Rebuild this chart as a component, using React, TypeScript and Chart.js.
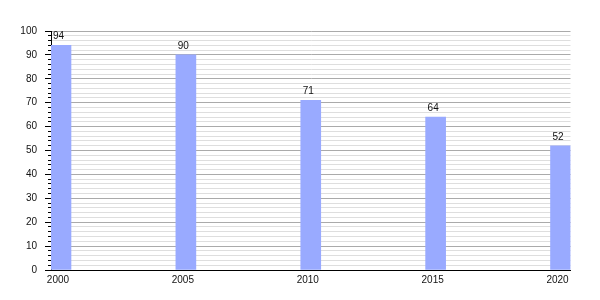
import React, { useEffect, useRef } from "react";
import { Chart, registerables } from "chart.js";

Chart.register(...registerables);

const years = [2000, 2005, 2010, 2015, 2020];
const values = [94, 90, 71, 64, 52];
const yMin = 0;
const yMax = 100;
const majorStep = 10;
const minorStep = 2;

const FONT = "'Liberation Sans', Arial, sans-serif";

const valueLabels = {
  id: "valueLabels",
  afterDatasetsDraw(chart: any) {
    const ctx = chart.ctx;
    const meta = chart.getDatasetMeta(0);
    ctx.save();
    ctx.font = `10px ${FONT}`;
    ctx.fillStyle = "#111";
    ctx.textAlign = "center";
    ctx.textBaseline = "alphabetic";
    meta.data.forEach((el: any, i: number) => {
      ctx.fillText(String(values[i]), el.x - 2.5, el.y - 6);
    });
    ctx.restore();
  },
};

export default function App() {
  const ref = useRef<HTMLCanvasElement>(null);
  useEffect(() => {
    if (!ref.current) return;
    const chart = new Chart(ref.current, {
      type: "bar",
      data: {
        datasets: [
          {
            data: years.map((y, i) => ({ x: y, y: values[i] })),
            backgroundColor: "rgb(153,170,255)",
            borderWidth: 0,
            barThickness: 20,
          },
        ],
      },
      options: {
        responsive: false,
        animation: false,
        layout: { padding: { top: 31, right: 29.5, left: 0, bottom: 0 } },
        plugins: {
          legend: { display: false },
          tooltip: { enabled: false },
        },
        scales: {
          x: {
            type: "linear",
            offset: false,
            min: years[0] - 0.4,
            max: years[years.length - 1] + 0.4,
            afterBuildTicks: (scale: any) => {
              scale.ticks = years.map((v) => ({ value: v }));
            },
            afterFit: (scale: any) => {
              scale.height = 30;
            },
            grid: { display: false, drawTicks: false, offset: false },
            border: { display: true, color: "#000", width: 1 },
            ticks: {
              font: { family: FONT, size: 10 },
              color: "#111",
              padding: 4,
              labelOffset: -3,
              maxRotation: 0,
              autoSkip: false,
              callback: (v: any) => String(v),
            },
          },
          y: {
            weight: 1,
            min: yMin,
            max: yMax,
            afterFit: (scale: any) => {
              scale.width = 51;
            },
            grid: {
              color: (c: any) =>
                c.tick && c.tick.value % majorStep === 0 ? "rgb(170,170,170)" : "rgb(222,222,222)",
              tickColor: (c: any) =>
                c.tick && c.tick.value % majorStep === 0 ? "#000" : "rgba(0,0,0,0)",
              tickLength: 6,
              lineWidth: 1,
            },
            border: { display: true, color: "#000", width: 1 },
            ticks: {
              stepSize: minorStep,
              maxTicksLimit: 101,
              autoSkip: false,
              font: { family: FONT, size: 10 },
              color: "#111",
              padding: 8,
              callback: (v: any) => (Number(v) % majorStep === 0 ? String(v) : ""),
            },
          },
          y2: {
            position: "left",
            weight: 0,
            min: yMin,
            max: yMax,
            afterFit: (scale: any) => {
              scale.width = 0;
            },
            grid: {
              drawOnChartArea: false,
              tickLength: 3,
              tickColor: "#000",
            },
            border: { display: false },
            ticks: { stepSize: minorStep, maxTicksLimit: 101, display: false, autoSkip: false },
          },
        },
      } as any,
      plugins: [valueLabels],
    });
    return () => chart.destroy();
  }, []);
  return (
    <div style={{ position: "absolute", left: 0, top: 0, width: 600, height: 300, background: "#fff" }}>
      <canvas ref={ref} width={600} height={300} />
    </div>
  );
}
